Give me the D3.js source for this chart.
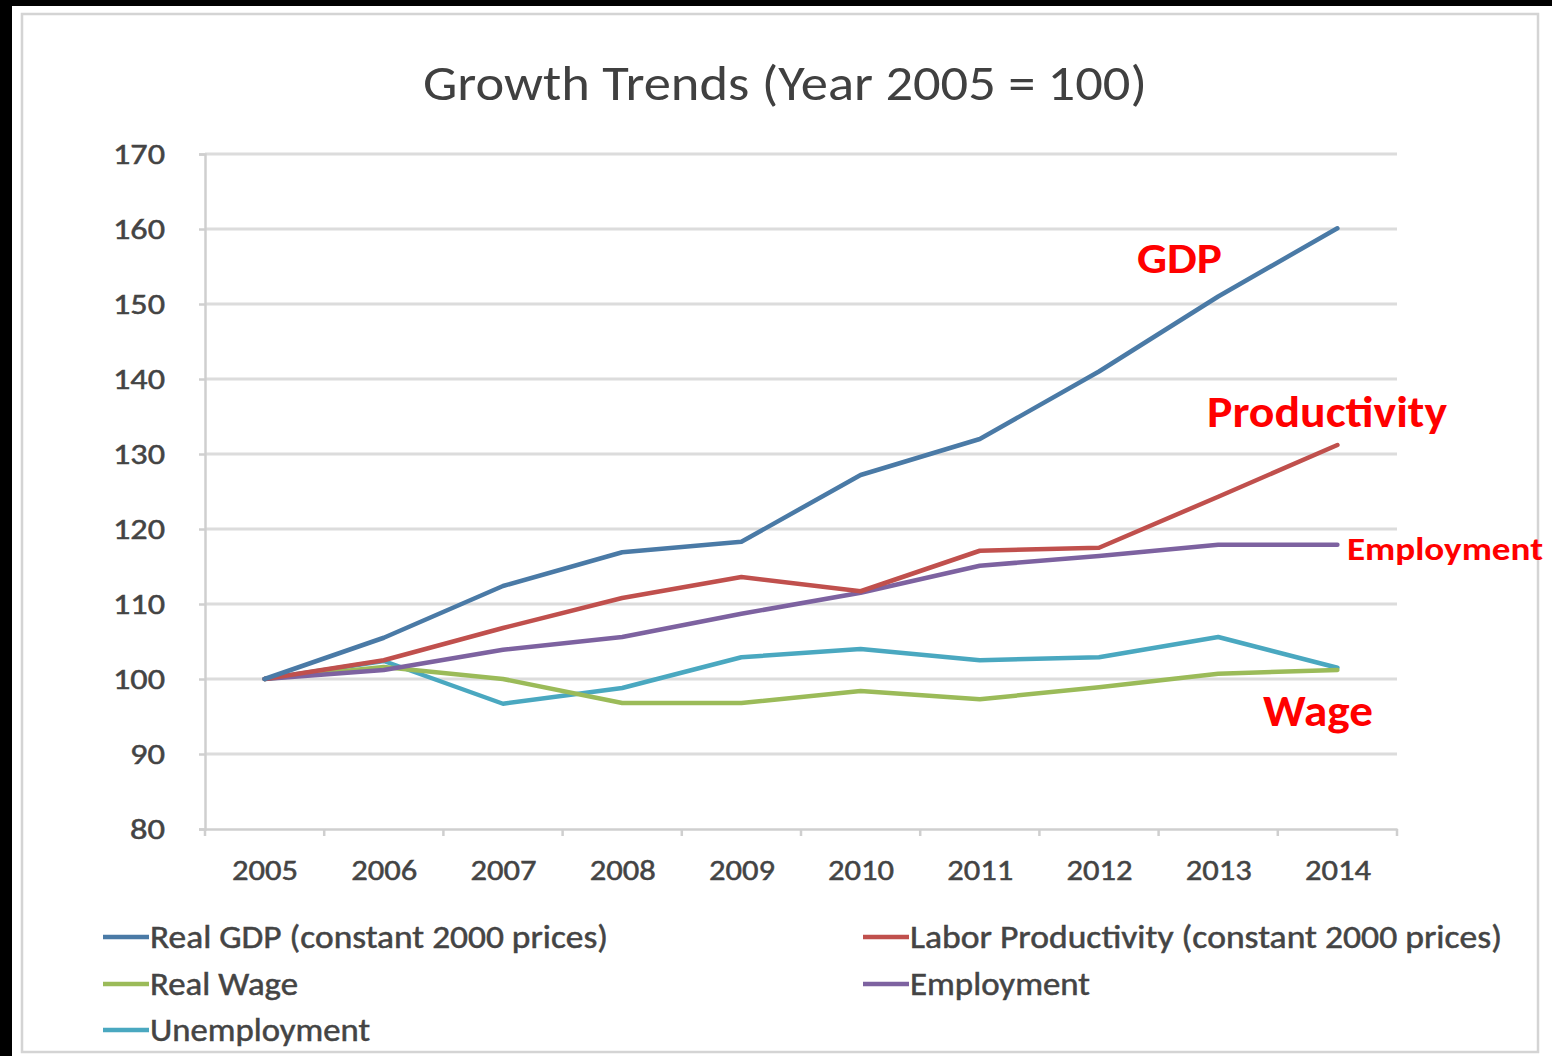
<!DOCTYPE html>
<html>
<head>
<meta charset="utf-8">
<script src="https://cdn.jsdelivr.net/npm/d3@7"></script>
<style>
  html, body { margin: 0; padding: 0; background: #000; }
  svg { display: block; }
</style>
</head>
<body>
<script>
var years = ["2005", "2006", "2007", "2008", "2009", "2010", "2011", "2012", "2013", "2014"];
var yTicks = [80, 90, 100, 110, 120, 130, 140, 150, 160, 170];

var gdp = [100, 105.5, 112.4, 116.9, 118.3, 127.2, 132.0, 141.0, 151.0, 160.1];
var productivity = [100, 102.5, 106.8, 110.8, 113.6, 111.7, 117.1, 117.5, 124.3, 131.2];
var wage = [100, 101.6, 100.0, 96.8, 96.8, 98.4, 97.3, 98.9, 100.7, 101.2];
var employment = [100, 101.2, 103.9, 105.6, 108.7, 111.5, 115.1, 116.4, 117.9, 117.9];
var unemployment = [100, 102.4, 96.7, 98.8, 102.9, 104.0, 102.5, 102.9, 105.6, 101.5];

var seriesNames = ["Real GDP (constant 2000 prices)", "Labor Productivity (constant 2000 prices)",
	"Real Wage", "Employment", "Unemployment"];
var seriesColors = ["#4a7aa6", "#c0504d", "#9bbb59", "#7d62a0", "#4aa8c0"];

var notes = ["GDP", "Productivity", "Employment", "Wage"];

var W = 1552, H = 1056;
var font = 'Carlito, Lato, "Open Sans", sans-serif';

var svg = d3.select('body')
	.append('svg')
	.attr('width', W)
	.attr('height', H);

svg.append('rect')
	.attr('x', 12).attr('y', 6)
	.attr('width', W - 12).attr('height', H - 6)
	.attr('fill', '#fff');

// outer chart border
svg.append('rect')
	.attr('x', 22).attr('y', 14)
	.attr('width', 1516).attr('height', 1038)
	.attr('fill', 'none')
	.attr('stroke', '#d4d4d4')
	.attr('stroke-width', 2.5);

var x = d3.scalePoint()
	.domain(years)
	.range([205, 1397])
	.padding(0.5);

var band = d3.scaleBand()
	.domain(years)
	.range([205, 1397]);

var y = d3.scaleLinear()
	.domain([80, 170])
	.range([829, 154]);

// title
svg.append('text')
	.attr('x', 785)
	.attr('y', 100)
	.attr('text-anchor', 'middle')
	.attr('font-family', font)
	.attr('font-size', 50)
	.attr('fill', '#404040')
	.attr('textLength', 724)
	.attr('lengthAdjust', 'spacingAndGlyphs')
	.text("Growth Trends (Year 2005 = 100)");

// gridlines
svg.append('g')
	.selectAll('line')
	.data(yTicks.filter(function(d) { return d > 80; }))
	.enter().append('line')
	.attr('x1', 205).attr('x2', 1397)
	.attr('y1', function(d) { return y(d); })
	.attr('y2', function(d) { return y(d); })
	.attr('stroke', '#dcdcdc')
	.attr('stroke-width', 3);

// y axis
var yAxis = svg.append('g')
	.attr('transform', 'translate(205,0)')
	.call(d3.axisLeft(y).tickValues(yTicks).tickSize(6).tickPadding(34));
yAxis.select('.domain').attr('stroke', '#cfcfcf').attr('stroke-width', 2.5);
yAxis.selectAll('.tick line').attr('stroke', '#cfcfcf').attr('stroke-width', 2.5);
yAxis.selectAll('.tick text')
	.attr('font-family', font)
	.attr('font-size', 29)
	.attr('fill', '#444')
	.attr('stroke', '#444')
	.attr('stroke-width', 0.5)
	.attr('textLength', function(d) { return d >= 100 ? 52 : 35; })
	.attr('lengthAdjust', 'spacingAndGlyphs');

// x axis
var xAxis = svg.append('g')
	.attr('transform', 'translate(0,829)')
	.call(d3.axisBottom(x).tickSize(0).tickPadding(30));
xAxis.select('.domain').attr('stroke', '#cfcfcf').attr('stroke-width', 2.5);
xAxis.selectAll('.tick text')
	.attr('font-family', font)
	.attr('font-size', 29)
	.attr('fill', '#444')
	.attr('stroke', '#444')
	.attr('stroke-width', 0.5)
	.attr('textLength', 66)
	.attr('lengthAdjust', 'spacingAndGlyphs');
xAxis.selectAll('.band-tick')
	.data(years.concat(['end']))
	.enter().append('line')
	.attr('class', 'band-tick')
	.attr('x1', function(d, i) { return i < years.length ? band(d) : band.range()[1]; })
	.attr('x2', function(d, i) { return i < years.length ? band(d) : band.range()[1]; })
	.attr('y1', 0).attr('y2', 7)
	.attr('stroke', '#cfcfcf')
	.attr('stroke-width', 2.5);

// lines
var allSeries = [gdp, productivity, wage, employment, unemployment];
var drawOrder = [4, 2, 3, 1, 0];

var line = d3.line()
	.x(function(d, i) { return x(years[i]); })
	.y(function(d) { return y(d); });

svg.append('g')
	.selectAll('path')
	.data(drawOrder)
	.enter().append('path')
	.attr('d', function(k) { return line(allSeries[k]); })
	.attr('fill', 'none')
	.attr('stroke', function(k) { return seriesColors[k]; })
	.attr('stroke-width', 4.5)
	.attr('stroke-linejoin', 'round')
	.attr('stroke-linecap', 'round');

// legend
var legendPos = [[103, 937], [863, 937], [103, 984], [863, 984], [103, 1030]];
var legendWidths = [458, 592, 148, 180, 220];
var legend = svg.append('g')
	.selectAll('g')
	.data(seriesNames)
	.enter().append('g')
	.attr('transform', function(d, i) { return 'translate(' + legendPos[i][0] + ',' + legendPos[i][1] + ')'; });
legend.append('line')
	.attr('x1', 0).attr('x2', 46)
	.attr('y1', 0).attr('y2', 0)
	.attr('stroke', function(d, i) { return seriesColors[i]; })
	.attr('stroke-width', 4.5);
legend.append('text')
	.attr('x', 47)
	.attr('y', 0)
	.attr('dy', '0.35em')
	.attr('font-family', font)
	.attr('font-size', 32)
	.attr('fill', '#444')
	.attr('stroke', '#444')
	.attr('stroke-width', 0.5)
	.attr('textLength', function(d, i) { return legendWidths[i]; })
	.attr('lengthAdjust', 'spacingAndGlyphs')
	.text(function(d) { return d; });

// red annotations
var notePos = [[1137, 258], [1207, 412], [1347, 548], [1263, 711]];
var noteSizes = [43, 44, 33, 44];
var noteWidths = [85, 240, 196, 110];
svg.append('g')
	.selectAll('text')
	.data(notes)
	.enter().append('text')
	.attr('x', function(d, i) { return notePos[i][0]; })
	.attr('y', function(d, i) { return notePos[i][1]; })
	.attr('dy', '0.35em')
	.attr('font-family', font)
	.attr('font-weight', 'bold')
	.attr('font-size', function(d, i) { return noteSizes[i]; })
	.attr('fill', '#ff0000')
	.attr('textLength', function(d, i) { return noteWidths[i]; })
	.attr('lengthAdjust', 'spacingAndGlyphs')
	.text(function(d) { return d; });
</script>
</body>
</html>
